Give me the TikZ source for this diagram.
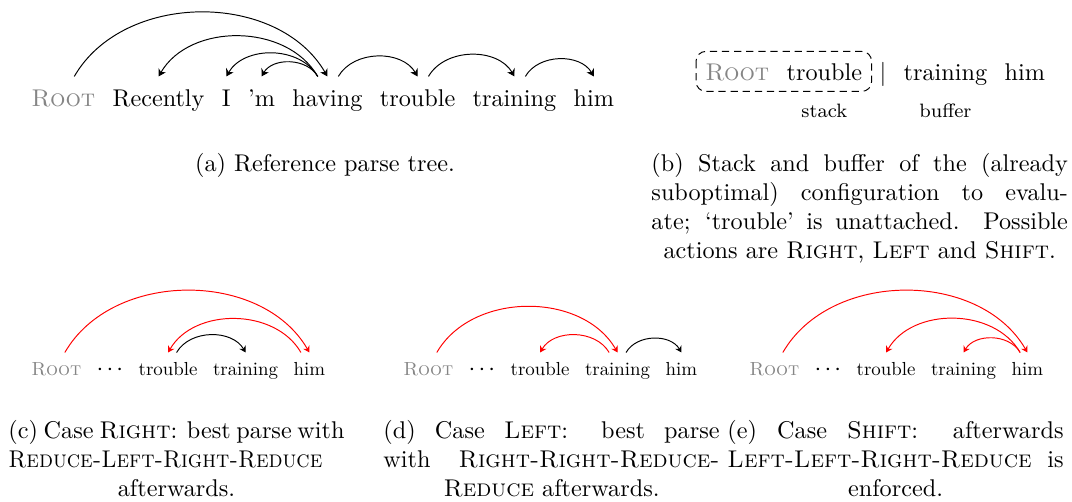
\documentclass[tikz,border=0pt]{standalone}
\usepackage{fontspec}
\usepackage{graphicx}
\newfontfamily\smallwordfont{lmroman10-regular.otf}[Scale=0.78, SmallCapsFont=lmromancaps10-regular.otf]
\usetikzlibrary{arrows.meta, positioning}
\definecolor{rootgrey}{HTML}{858585}
\definecolor{arcred}{HTML}{FF0000}
\newcommand\centerlast{\spaceskip=0pt\xspaceskip=0pt
  \leftskip=0pt plus 1fil\rightskip=0pt plus -1fil
  \parfillskip=0pt plus 2fil\tolerance=10000\hbadness=10000\relax}
\newcommand\wordgap{$\cdot$\hspace{1.3pt}$\cdot$\hspace{1.3pt}$\cdot$}
\tikzset{
  word/.style={inner xsep=0pt, inner ysep=5pt, text height=7pt, text depth=2pt},
  smallword/.style={word, font=\smallwordfont, inner ysep=3.6pt, text height=5.5pt, text depth=1.6pt},
  rootword/.style={text=rootgrey},
  deparc/.style={-{Stealth[length=3pt, width=3.5pt]}},
  smallarc/.style={-{Stealth[length=2.6pt, width=3pt]}},
  toright/.style={out=60, in=120},
  toleft/.style={out=120, in=60},
  subcap/.style={inner sep=0pt, anchor=base west, text width=#1, execute at begin node=\centerlast},
}

\begin{document}
\begin{tikzpicture}[x=0.413pt, y=0.413pt, node distance=6.8pt]
\useasboundingbox (0,0) rectangle (1072,-502);

\node[word, rootword, anchor=base west] (aRoot) at (31,-106) {\textsc{Root}};
\node[word, right=of aRoot] (aRecently) {Recently};
\node[word, right=of aRecently] (aI) {I};
\node[word, right=of aI] (aM) {'m};
\node[word, right=of aM] (aHaving) {having};
\node[word, right=of aHaving] (aTrouble) {trouble};
\node[word, right=of aTrouble] (aTraining) {training};
\node[word, right=of aTraining] (aHim) {him};

\draw[deparc, toright] ([xshift=4.5pt]aRoot.north) to (aHaving.north);
\draw[deparc, toleft] ([xshift=-4pt]aHaving.north) to (aRecently.north);
\draw[deparc, toleft] ([xshift=-4pt]aHaving.north) to (aI.north);
\draw[deparc, toleft] ([xshift=-4pt]aHaving.north) to (aM.north);
\draw[deparc, toright] ([xshift=4.5pt]aHaving.north) to (aTrouble.north);
\draw[deparc, toright] ([xshift=4.5pt]aTrouble.north) to (aTraining.north);
\draw[deparc, toright] ([xshift=4.5pt]aTraining.north) to (aHim.north);

\node[anchor=base] (aCaption) at (325,-171) {(a) Reference parse tree.};

\node[word, rootword, anchor=base west] (bRoot) at (705,-80) {\textsc{Root}};
\node[word, right=of bRoot] (bTrouble) {trouble};
\node[word, right=of bTrouble] (bBar) {$|$};
\node[word, right=of bBar] (bTraining) {training};
\node[word, right=of bTraining] (bHim) {him};
\node[anchor=base, font=\footnotesize] (bStack) at ([yshift=-15.5pt]bTrouble.base) {stack};
\node[anchor=base, font=\footnotesize] (bBuffer) at ([yshift=-15.5pt]bTraining.base) {buffer};
\draw[dash pattern=on 3pt off 2pt, rounded corners=4pt]
  ([xshift=-3.7pt, yshift=-0.4pt]bRoot.north west) rectangle ([xshift=3.7pt, yshift=2.5pt]bTrouble.south east);

\node[subcap=172pt] (bCaption) at (651,-171) {(b) Stack and buffer of the (already\linebreak
  suboptimal) configuration to evalu-\linebreak
  ate; `trouble' is unattached. Possible\linebreak
  actions are \textsc{Right}, \textsc{Left} and \textsc{Shift}.};

\begin{scope}[node distance=6pt]
\node[smallword, rootword, anchor=base west] (cRoot) at (31,-375) {\textsc{Root}};
\node[smallword, right=of cRoot] (cDots) {\wordgap};
\node[smallword, right=of cDots] (cTrouble) {trouble};
\node[smallword, right=of cTrouble] (cTraining) {training};
\node[smallword, right=of cTraining] (cHim) {him};
\draw[smallarc, toright, arcred] ([xshift=3.5pt]cRoot.north) to (cHim.north);
\draw[smallarc, toleft, arcred] ([xshift=-3.5pt]cHim.north) to (cTrouble.north);
\draw[smallarc, toright] ([xshift=3.5pt]cTrouble.north) to (cTraining.north);

\node[smallword, rootword, anchor=base west] (dRoot) at (403,-375) {\textsc{Root}};
\node[smallword, right=of dRoot] (dDots) {\wordgap};
\node[smallword, right=of dDots] (dTrouble) {trouble};
\node[smallword, right=of dTrouble] (dTraining) {training};
\node[smallword, right=of dTraining] (dHim) {him};
\draw[smallarc, toright, arcred] ([xshift=3.5pt]dRoot.north) to (dTraining.north);
\draw[smallarc, toleft, arcred] ([xshift=-3.5pt]dTraining.north) to (dTrouble.north);
\draw[smallarc, toright] ([xshift=3.5pt]dTraining.north) to (dHim.north);

\node[smallword, rootword, anchor=base west] (eRoot) at (749,-375) {\textsc{Root}};
\node[smallword, right=of eRoot] (eDots) {\wordgap};
\node[smallword, right=of eDots] (eTrouble) {trouble};
\node[smallword, right=of eTrouble] (eTraining) {training};
\node[smallword, right=of eTraining] (eHim) {him};
\draw[smallarc, toright, arcred] ([xshift=3.5pt]eRoot.north) to (eHim.north);
\draw[smallarc, toleft, arcred] ([xshift=-3pt]eHim.north) to (eTrouble.north);
\draw[smallarc, toleft, arcred] ([xshift=-3pt]eHim.north) to (eTraining.north);
\end{scope}

\node[subcap=138.8pt] (cCaption) at (8,-438) {(c) Case \textsc{Right}: best parse with\linebreak
  \scalebox{0.93}[1]{\textsc{Reduce-Left-Right-Reduce}}\linebreak afterwards.};
\node[subcap=138.8pt] (dCaption) at (383,-438) {(d) Case \textsc{Left}: best parse\linebreak
  with \textsc{Right-Right-Reduce-}\linebreak \textsc{Reduce} afterwards.};
\node[subcap=138.8pt] (eCaption) at (727,-438) {(e) Case \textsc{Shift}: afterwards\linebreak
  \textsc{Left-Left-Right-Reduce} is\linebreak enforced.};
\end{tikzpicture}
\end{document}
